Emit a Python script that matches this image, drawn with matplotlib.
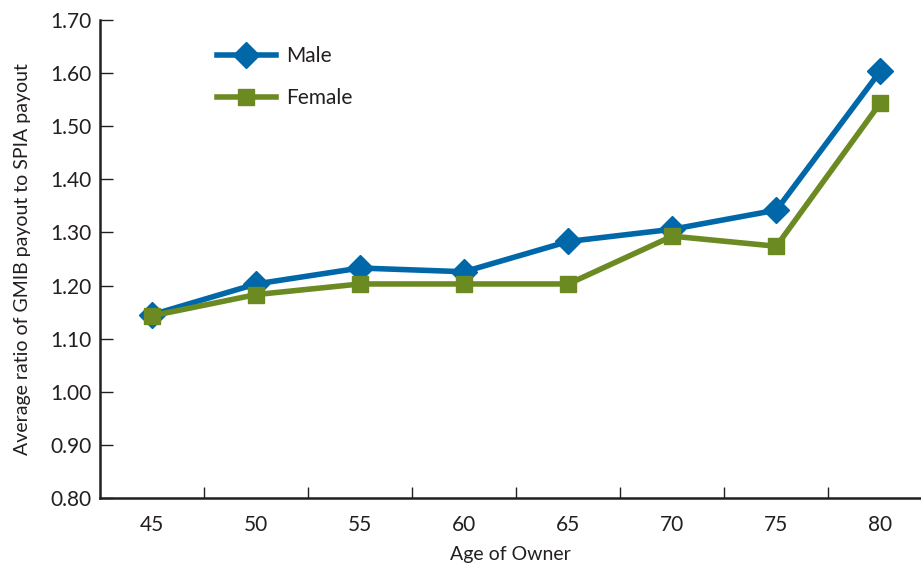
import numpy as np
import matplotlib.pyplot as plt
from matplotlib.ticker import FixedLocator

# ----------------------------------------------------------------------
# Data
# ----------------------------------------------------------------------
ages = ["45", "50", "55", "60", "65", "70", "75", "80"]
male = [1.145, 1.203, 1.233, 1.226, 1.283, 1.306, 1.342, 1.604]
female = [1.143, 1.183, 1.203, 1.203, 1.203, 1.293, 1.274, 1.544]

BLUE = "#0068a8"
GREEN = "#6b8a22"
INK = "#231f20"

plt.rcParams["font.family"] = ["Lato", "DejaVu Sans"]

fig = plt.figure(figsize=(9.21, 5.75), dpi=100)
ax = fig.add_axes([100 / 921, 1 - 498 / 575, 1 - 100 / 921, (498 - 20) / 575])

x = np.arange(len(ages))
ax.plot(x, male, color=BLUE, lw=4.0, marker="D", ms=13,
        label="Male", zorder=3)
ax.plot(x, female, color=GREEN, lw=4.0, marker="s", ms=12,
        label="Female", zorder=4)

ax.set_xlim(-0.5, 7.39)
ax.set_ylim(0.80, 1.70)
ax.set_yticks(np.arange(0.80, 1.701, 0.10))
ax.set_yticklabels([f"{v:.2f}" for v in np.arange(0.80, 1.701, 0.10)])

# category labels centred, tick marks on the boundaries
ax.set_xticks(x)
ax.set_xticklabels(ages)
ax.xaxis.set_minor_locator(FixedLocator(np.arange(0.5, 7.0, 1.0)))
ax.tick_params(axis="x", which="major", length=0, pad=12)
ax.tick_params(axis="x", which="minor", direction="in", length=8,
               width=1.0, color=INK)
ax.tick_params(axis="y", direction="in", length=9, width=1.0, color=INK,
               pad=6)
ax.tick_params(labelsize=15, labelcolor=INK)

for side in ("top", "right"):
    ax.spines[side].set_visible(False)
for side in ("left", "bottom"):
    ax.spines[side].set_linewidth(1.8)
    ax.spines[side].set_color(INK)

ax.set_xlabel("Age of Owner", fontsize=14, color=INK, labelpad=8)
ax.set_ylabel("Average ratio of GMIB payout to SPIA payout", fontsize=14,
              color=INK, labelpad=14)

ax.legend(loc="upper left", bbox_to_anchor=(0.12, 0.985), frameon=False,
          fontsize=15, handlelength=2.8, handletextpad=0.5,
          labelspacing=1.05, labelcolor=INK)

fig.savefig("out.png", dpi=100)
